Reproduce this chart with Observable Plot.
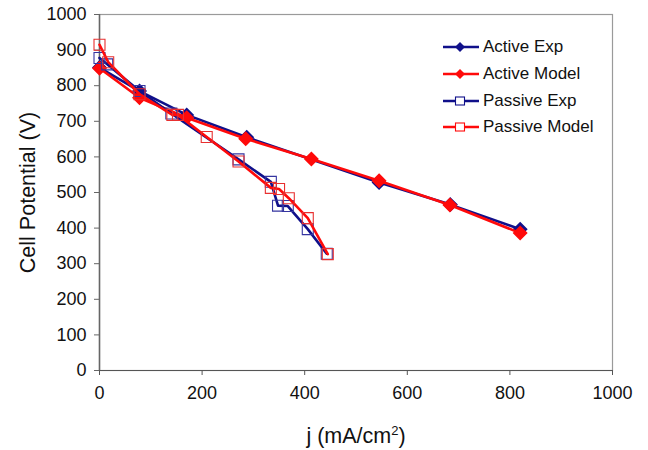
<!DOCTYPE html>
<html>
<head>
<meta charset="utf-8">
<script src="https://cdn.jsdelivr.net/npm/d3@7"></script>
<script src="https://cdn.jsdelivr.net/npm/@observablehq/plot@0.6"></script>
<style>
  html, body { margin: 0; padding: 0; background: #fff; }
  #wrap { position: relative; width: 648px; height: 450px; font-family: "Liberation Sans", Arial, sans-serif; }
  #legend { position: absolute; left: 442px; top: 34px; font-size: 17px; color: #111; }
  .item { display: flex; align-items: center; height: 26.7px; }
  .item svg { margin-right: 3px; }
</style>
</head>
<body>
<div id="wrap"></div>
<script>
// ---- data ----
const seriesNames = ["Active Exp", "Active Model", "Passive Exp", "Passive Model"];

const activeExpJ = [0, 78, 170, 287, 545, 684, 820];
const activeExpV = [851, 785, 718, 655, 528, 466, 397];

const activeModelJ = [0, 78, 170, 285, 413, 545, 683, 820];
const activeModelV = [849, 766, 710, 651, 594, 533, 465, 386];

const passiveExpJ = [0, 15, 78, 140, 271, 334, 348, 367, 406, 443];
const passiveExpV = [878, 860, 785, 722, 593, 530, 463, 462, 397, 328];

const passiveModelJ = [0, 17, 78, 142, 153, 209, 271, 334, 350, 369, 406, 445];
const passiveModelV = [915, 866, 776, 718, 718, 656, 587, 513, 510, 484, 428, 327];

const xTicks = [0, 200, 400, 600, 800, 1000];
const yTicks = [0, 100, 200, 300, 400, 500, 600, 700, 800, 900, 1000];

const navy = "#10108a";
const red = "#ff0a0a";

function rows(js, vs, name) { return js.map((j, i) => ({j, v: vs[i], s: name})); }
const activeExp = rows(activeExpJ, activeExpV, seriesNames[0]);
const activeModel = rows(activeModelJ, activeModelV, seriesNames[1]);
const passiveExp = rows(passiveExpJ, passiveExpV, seriesNames[2]);
const passiveModel = rows(passiveModelJ, passiveModelV, seriesNames[3]);

const fmt = d => String(d);

const chart = Plot.plot({
  width: 648,
  height: 450,
  marginLeft: 99,
  marginRight: 36,
  marginTop: 14,
  marginBottom: 80,
  style: { fontFamily: "Liberation Sans, Arial, sans-serif", fontSize: "18px", color: "#111", background: "#fff" },
  x: { domain: [0, 1000], ticks: xTicks, label: null },
  y: { domain: [0, 1000], ticks: yTicks, label: null },
  marks: [
    Plot.frame({ stroke: "#9a9a9a", strokeWidth: 1.2 }),
    Plot.ruleX([0], { stroke: "#666", strokeWidth: 1.5 }),
    Plot.ruleY([0], { stroke: "#555", strokeWidth: 1.2 }),
    Plot.axisY({ ticks: yTicks, tickFormat: fmt, tickSize: 5, tickPadding: 8, fontSize: 18, stroke: "#666", label: null }),
    Plot.axisX({ ticks: xTicks, tickFormat: fmt, tickSize: 5, tickPadding: 11, fontSize: 18, stroke: "#555", label: null }),
    Plot.axisY({ ticks: [], label: "Cell Potential (V)", labelAnchor: "center", labelArrow: "none", labelOffset: 80, fontSize: 21.5 }),
    Plot.axisX({ ticks: [], label: "j (mA/cm²)", labelAnchor: "center", labelArrow: "none", labelOffset: 72, fontSize: 21.5 }),

    Plot.line(activeExp, { x: "j", y: "v", stroke: navy, strokeWidth: 2.6 }),
    Plot.dot(activeExp, { x: "j", y: "v", symbol: "diamond2", r: 5.8, fill: navy, stroke: navy }),

    Plot.line(activeModel, { x: "j", y: "v", stroke: red, strokeWidth: 2.6 }),
    Plot.dot(activeModel, { x: "j", y: "v", symbol: "diamond2", r: 5.8, fill: red, stroke: red }),

    Plot.line(passiveExp, { x: "j", y: "v", stroke: navy, strokeWidth: 2.6 }),
    Plot.dot(passiveExp, { x: "j", y: "v", symbol: "square", r: 6.2, fill: "none", stroke: "#3535a0", strokeWidth: 1.1 }),

    Plot.line(passiveModel, { x: "j", y: "v", stroke: red, strokeWidth: 2.6 }),
    Plot.dot(passiveModel, { x: "j", y: "v", symbol: "square", r: 6.2, fill: "none", stroke: "#e83030", strokeWidth: 1.1 })
  ]
});

const wrap = document.getElementById("wrap");
wrap.appendChild(chart);

// render the superscript 2 in the x label as a raised, smaller glyph
for (const t of chart.querySelectorAll("text")) {
  if (t.textContent === "j (mA/cm²)") {
    t.textContent = "";
    const ns = "http://www.w3.org/2000/svg";
    const a = document.createElementNS(ns, "tspan"); a.textContent = "j (mA/cm";
    const b = document.createElementNS(ns, "tspan"); b.textContent = "2";
    b.setAttribute("font-size", "13"); b.setAttribute("dy", "-8");
    const c = document.createElementNS(ns, "tspan"); c.textContent = ")"; c.setAttribute("dy", "8");
    t.append(a, b, c);
  }
}

// legend
const legendSpec = [
  { name: seriesNames[0], color: navy, shape: "diamond" },
  { name: seriesNames[1], color: red, shape: "diamond" },
  { name: seriesNames[2], color: navy, shape: "square" },
  { name: seriesNames[3], color: red, shape: "square" }
];
const legend = document.createElement("div");
legend.id = "legend";
for (const it of legendSpec) {
  const row = document.createElement("div");
  row.className = "item";
  const marker = it.shape === "diamond"
    ? `<path d="M18,2 L23,7 L18,12 L13,7 Z" fill="${it.color}"/>`
    : `<rect x="13.5" y="3" width="9" height="8" fill="#fff" stroke="${it.color}" stroke-width="1.1"/>`;
  row.innerHTML = `<svg width="38" height="14"><line x1="1" y1="7" x2="37" y2="7" stroke="${it.color}" stroke-width="2.4"/>${marker}</svg><span>${it.name}</span>`;
  legend.appendChild(row);
}
wrap.appendChild(legend);
</script>
</body>
</html>
